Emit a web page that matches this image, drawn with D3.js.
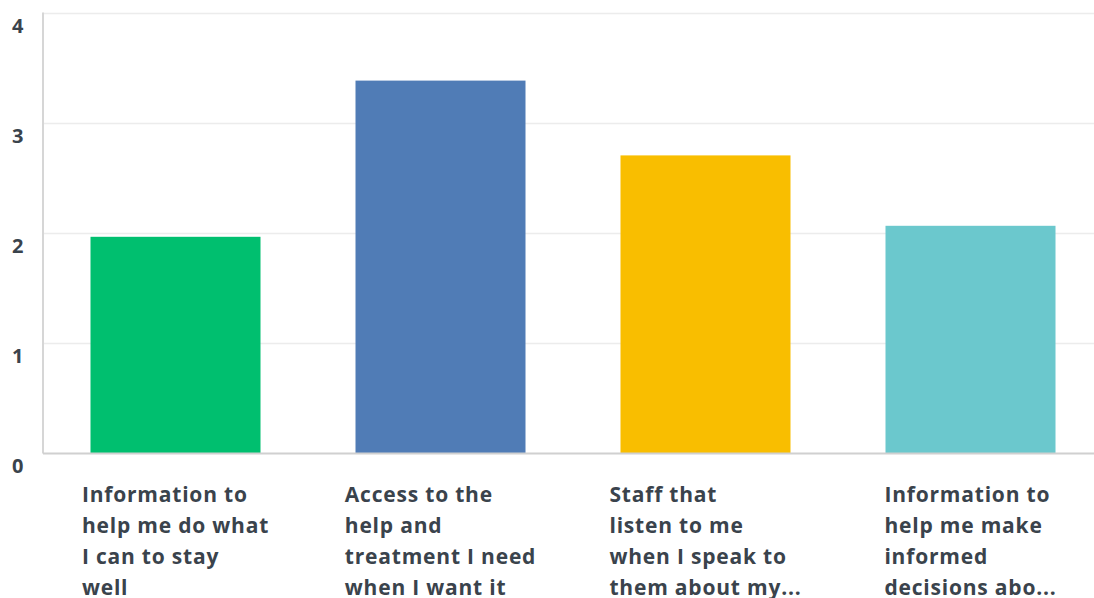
<!DOCTYPE html>
<html>
<head>
<meta charset="utf-8">
<script src="https://cdn.jsdelivr.net/npm/d3@7"></script>
<style>
  html, body { margin: 0; padding: 0; background: #fff; }
  svg { display: block; }
  text { font-family: "Open Sans", "Noto Sans", sans-serif; font-weight: 700; fill: #3a434c; }
</style>
</head>
<body>
<svg id="chart" width="1094" height="598"></svg>
<script>
// Category labels, already split into display lines
const categories = [
  "Information to help me do what I can to stay well",
  "Access to the help and treatment I need when I want it",
  "Staff that listen to me when I speak to them about my...",
  "Information to help me make informed decisions abo..."
];
const labelLines = [
  ["Information to", "help me do what", "I can to stay", "well"],
  ["Access to the", "help and", "treatment I need", "when I want it"],
  ["Staff that", "listen to me", "when I speak to", "them about my..."],
  ["Information to", "help me make", "informed", "decisions abo..."]
];
const values = [1.97, 3.39, 2.71, 2.07];
const colors = ["#00bf6f", "#507cb6", "#f9be00", "#6bc8cd"];
const yTicks = [0, 1, 2, 3, 4];

const svg = d3.select("#chart");
const W = 1094;
const plotLeft = 43, plotBottom = 453.5, plotTop = 13.5;

const x = d3.scaleBand()
  .domain(categories)
  .range([plotLeft, 1103])
  .paddingInner(0.3585)
  .paddingOuter(0.3585 / 2);

const y = d3.scaleLinear().domain([0, 4]).range([plotBottom, plotTop]);

// horizontal gridlines
svg.append("g")
  .selectAll("line")
  .data(yTicks.filter(d => d > 0))
  .join("line")
  .attr("x1", plotLeft).attr("x2", W)
  .attr("y1", d => y(d)).attr("y2", d => y(d))
  .attr("stroke", "#ececec").attr("stroke-width", 1.5);

// y tick labels
svg.append("g")
  .selectAll("text")
  .data(yTicks)
  .join("text")
  .attr("x", 12)
  .attr("y", d => y(d) + 12)
  .attr("dy", "0.35em")
  .attr("font-size", 20)
  .attr("font-weight", 600)
  .text(d => d);

// bars
svg.append("g")
  .selectAll("rect")
  .data(values)
  .join("rect")
  .attr("x", (d, i) => x(categories[i]))
  .attr("width", x.bandwidth())
  .attr("y", d => y(d))
  .attr("height", d => y(0) - y(d))
  .attr("fill", (d, i) => colors[i]);

// axis lines
svg.append("line")
  .attr("x1", plotLeft).attr("x2", plotLeft)
  .attr("y1", plotTop - 1).attr("y2", plotBottom)
  .attr("stroke", "#d6d6d6").attr("stroke-width", 2);
svg.append("line")
  .attr("x1", plotLeft).attr("x2", W)
  .attr("y1", plotBottom).attr("y2", plotBottom)
  .attr("stroke", "#d0d0d0").attr("stroke-width", 2);

// category labels: left-aligned block centered under each bar
const labels = svg.append("g")
  .selectAll("text")
  .data(categories)
  .join("text")
  .attr("font-size", 21)
  .attr("font-weight", 600)
  .attr("letter-spacing", 0.8);

labels.each(function(c, i) {
  const t = d3.select(this);
  labelLines[i].forEach((ln, k) => {
    t.append("tspan").attr("y", 495 + k * 31).attr("dy", "0.35em").text(ln);
  });
});
labels.each(function(c, i) {
  const t = d3.select(this);
  let maxW = 0;
  t.selectAll("tspan").each(function() { maxW = Math.max(maxW, this.getComputedTextLength()); });
  const cx = x(c) + x.bandwidth() / 2;
  t.selectAll("tspan").attr("x", cx - maxW / 2);
});
</script>
</body>
</html>
